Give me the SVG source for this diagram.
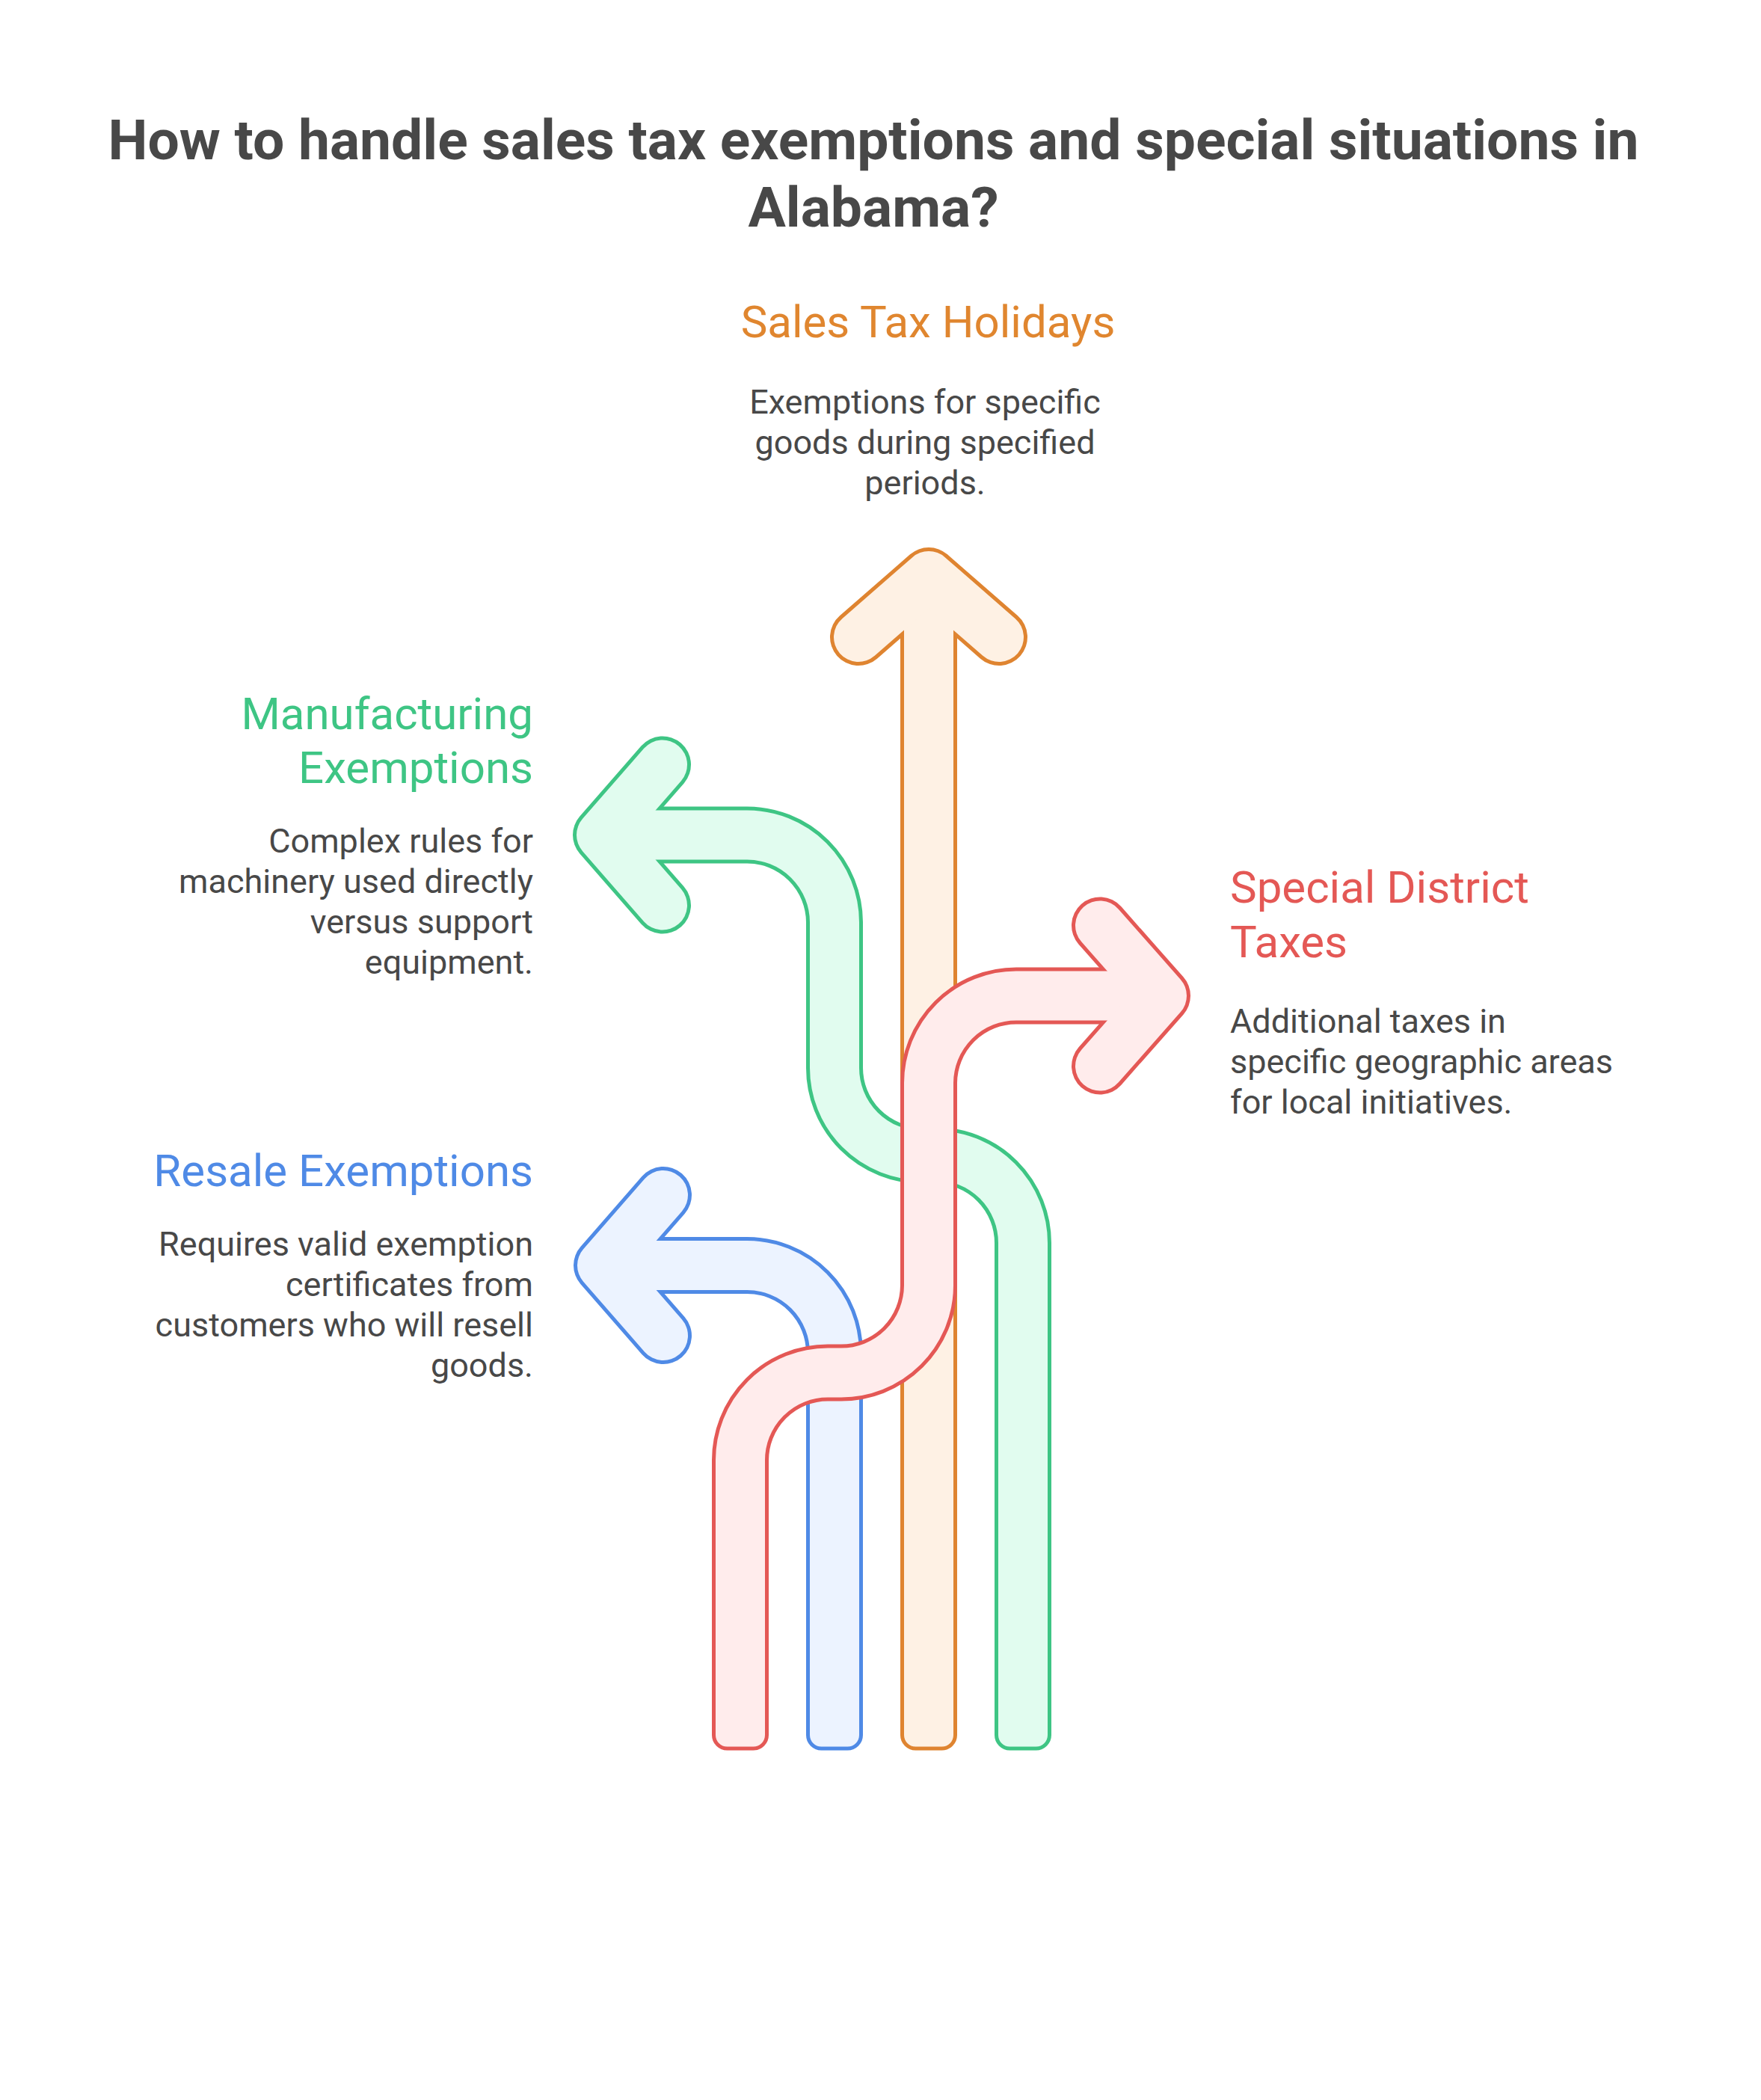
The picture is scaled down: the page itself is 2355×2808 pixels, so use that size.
<svg xmlns="http://www.w3.org/2000/svg" width="2355" height="2808" viewBox="0 0 2355 2808">
<style>
text{font-family:Roboto,'Liberation Sans',sans-serif}
.title{font-size:75px;font-weight:700;fill:#484848}
.head{font-size:60px;font-weight:400}
.desc{font-size:45px;font-weight:400;fill:#484848}
.o{stroke-width:76;fill:none}
.i{stroke-width:66;fill:none}
.shaft{stroke-linecap:butt;stroke-linejoin:round}
.chev{stroke-linecap:round;stroke-linejoin:round}
.cap{stroke-width:5}
.orS{stroke:#DF8430}.orF{stroke:#FEF1E4}
.grS{stroke:#3EC584}.grF{stroke:#E1FCEF}
.blS{stroke:#4F8AE6}.blF{stroke:#ECF3FF}
.rdS{stroke:#E45855}.rdF{stroke:#FFECEC}
</style>
<rect width="2355" height="2808" fill="#ffffff"/>
<g id="title">
<text class="title" x="1168" y="213" text-anchor="middle">How to handle sales tax exemptions and special situations in</text>
<text class="title" x="1168" y="303" text-anchor="middle">Alabama?</text>
</g>
<g id="connectors">
<g id="arrow-orange">
<path class="o shaft orS" d="M1242,2318 V800"/>
<path class="o chev orS" d="M1148,852 L1242,770 L1336,852"/>
<rect class="cap orS" x="1206.5" y="2298" width="71" height="40" rx="18" fill="#FEF1E4"/>
<path class="i shaft orF" d="M1242,2318 V800"/>
<path class="i chev orF" d="M1148,852 L1242,770 L1336,852"/>
</g>
<g id="arrow-green">
<path class="o shaft grS" d="M1368,2318 V1662 A117,117 0 0 0 1251,1545 H1233 A117,117 0 0 1 1116,1428 V1233 A117,117 0 0 0 999,1116.5 H822"/>
<path class="o chev grS" d="M886,1022.5 L804,1116.5 L886,1210.5"/>
<rect class="cap grS" x="1332.5" y="2298" width="71" height="40" rx="18" fill="#E1FCEF"/>
<path class="i shaft grF" d="M1368,2318 V1662 A117,117 0 0 0 1251,1545 H1233 A117,117 0 0 1 1116,1428 V1233 A117,117 0 0 0 999,1116.5 H822"/>
<path class="i chev grF" d="M886,1022.5 L804,1116.5 L886,1210.5"/>
</g>
<g id="arrow-blue">
<path class="o shaft blS" d="M1116,2318 V1809 A117,117 0 0 0 999,1692 H822"/>
<path class="o chev blS" d="M887,1598 L805,1692 L887,1786"/>
<rect class="cap blS" x="1080.5" y="2298" width="71" height="40" rx="18" fill="#ECF3FF"/>
<path class="i shaft blF" d="M1116,2318 V1809 A117,117 0 0 0 999,1692 H822"/>
<path class="i chev blF" d="M887,1598 L805,1692 L887,1786"/>
</g>
<g id="arrow-red">
<path class="o shaft rdS" d="M990,2318 V1953 A117,117 0 0 1 1107,1835.5 H1125 A117,117 0 0 0 1242,1719 V1448 A117,117 0 0 1 1359,1331.5 H1536"/>
<path class="o chev rdS" d="M1471,1237.5 L1554,1331.5 L1471,1425.5"/>
<rect class="cap rdS" x="954.5" y="2298" width="71" height="40" rx="18" fill="#FFECEC"/>
<path class="i shaft rdF" d="M990,2318 V1953 A117,117 0 0 1 1107,1835.5 H1125 A117,117 0 0 0 1242,1719 V1448 A117,117 0 0 1 1359,1331.5 H1536"/>
<path class="i chev rdF" d="M1471,1237.5 L1554,1331.5 L1471,1425.5"/>
</g>
</g>
<g id="node-sales-tax-holidays">
<text class="head" x="1241" y="451" text-anchor="middle" fill="#E0862F">Sales Tax Holidays</text>
<text class="desc" x="1237" y="553" text-anchor="middle">Exemptions for specific</text>
<text class="desc" x="1237" y="607" text-anchor="middle">goods during specified</text>
<text class="desc" x="1237" y="661" text-anchor="middle">periods.</text>
</g>
<g id="node-manufacturing-exemptions">
<text class="head" x="713" y="975" text-anchor="end" fill="#3EC584">Manufacturing</text>
<text class="head" x="713" y="1047" text-anchor="end" fill="#3EC584">Exemptions</text>
<text class="desc" x="713" y="1140" text-anchor="end">Complex rules for</text>
<text class="desc" x="713" y="1194" text-anchor="end">machinery used directly</text>
<text class="desc" x="713" y="1248" text-anchor="end">versus support</text>
<text class="desc" x="713" y="1302" text-anchor="end">equipment.</text>
</g>
<g id="node-special-district-taxes">
<text class="head" x="1645" y="1207" fill="#E45855">Special District</text>
<text class="head" x="1645" y="1280" fill="#E45855">Taxes</text>
<text class="desc" x="1645" y="1381">Additional taxes in</text>
<text class="desc" x="1645" y="1435">specific geographic areas</text>
<text class="desc" x="1645" y="1489">for local initiatives.</text>
</g>
<g id="node-resale-exemptions">
<text class="head" x="713" y="1586" text-anchor="end" fill="#4F8AE6">Resale Exemptions</text>
<text class="desc" x="713" y="1679" text-anchor="end">Requires valid exemption</text>
<text class="desc" x="713" y="1733" text-anchor="end">certificates from</text>
<text class="desc" x="713" y="1787" text-anchor="end">customers who will resell</text>
<text class="desc" x="713" y="1841" text-anchor="end">goods.</text>
</g>
</svg>
